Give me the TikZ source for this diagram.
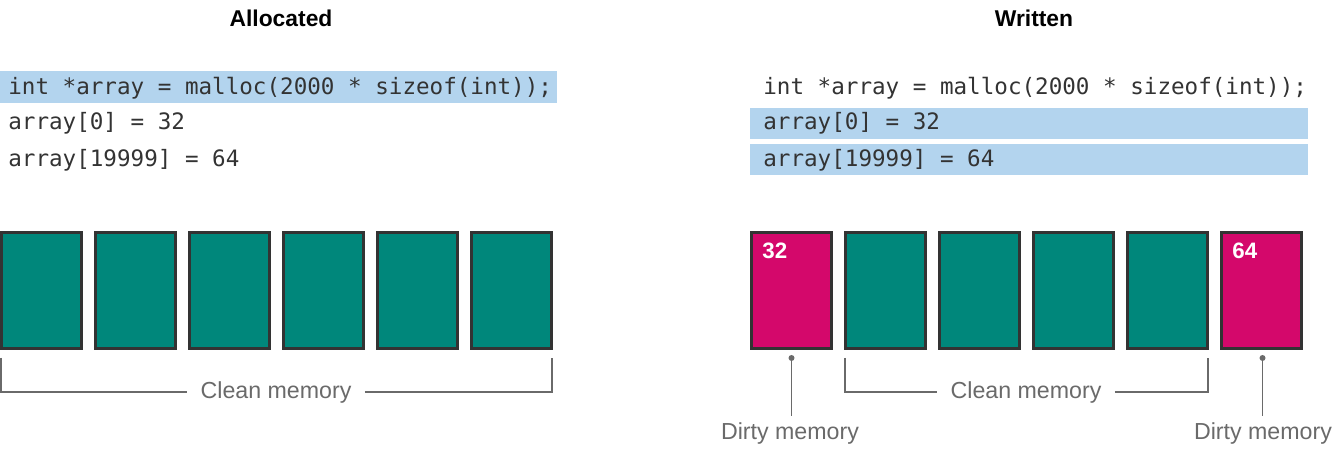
\documentclass[tikz,border=0pt]{standalone}
\usepackage{fontspec}
\setmainfont{Liberation Sans}
\setmonofont{DejaVu Sans Mono}
\usetikzlibrary{positioning,calc}

\definecolor{cleanteal}{HTML}{00877B}
\definecolor{dirtypink}{HTML}{D4086B}
\definecolor{hilite}{HTML}{B3D4EE}
\definecolor{framegray}{HTML}{333333}
\definecolor{codegray}{HTML}{333333}
\definecolor{labelgray}{HTML}{6A6A6A}

\tikzset{
  cleanpage/.style={draw=framegray, fill=cleanteal, line width=1.7pt,
    minimum width=1.6cm, minimum height=2.32cm, inner sep=0pt},
  dirtypage/.style={cleanpage, fill=dirtypink},
  pagenum/.style={text=white, font=\bfseries\fontsize{12.7}{15}\selectfont,
    anchor=base west, inner sep=0pt},
  codeline/.style={text=codegray, font=\ttfamily\fontsize{12.85}{15}\selectfont,
    anchor=base west, inner sep=0pt},
  title/.style={font=\bfseries\fontsize{13}{15}\selectfont},
  memlabel/.style={text=labelgray, font=\fontsize{13.2}{15}\selectfont, inner xsep=0.26cm},
  bracket/.style={draw=labelgray, line width=1.1pt}
}

\begin{document}
\begin{tikzpicture}[x=0.02cm, y=-0.02cm]
    \fill[white] (0,0) rectangle (1334,456);
    \useasboundingbox (0,0) rectangle (1334,456);

    % Titles
    \node[title] (allocT) at (281,18) {Allocated};
    \node[title] (writtenT) at (1034,18) {Written};

    % Highlighted lines
    \fill[hilite] (0,71) rectangle (557,103);
    \fill[hilite] (750,108) rectangle (1308,139);
    \fill[hilite] (750,144) rectangle (1308,175);

    % Code, left
    \node[codeline] (codeA1) at (8,94) {int *array = malloc(2000 * sizeof(int));};
    \node[codeline] (codeA2) at (8,130) {array[0] = 32};
    \node[codeline] (codeA3) at (8,166) {array[19999] = 64};
    % Code, right
    \node[codeline] (codeW1) at (763,94) {int *array = malloc(2000 * sizeof(int));};
    \node[codeline] (codeW2) at (763,130) {array[0] = 32};
    \node[codeline] (codeW3) at (763,166) {array[19999] = 64};

    % Pages, left
    \foreach \i in {1,...,6}
        \node[cleanpage] (a\i) at ({41.5+94*(\i-1)},290.5) {};
    % Pages, right
    \foreach \i/\s in {1/dirtypage,2/cleanpage,3/cleanpage,4/cleanpage,5/cleanpage,6/dirtypage}
        \node[\s] (w\i) at ({791.5+94*(\i-1)},290.5) {};
    \node[pagenum] (num32) at ($(w1.north west)+(12,27)$) {32};
    \node[pagenum] (num64) at ($(w6.north west)+(12,27)$) {64};

    % Clean bracket, left
    \coordinate (ca) at ($(a1.south west)+(1,8)$);
    \coordinate (cb) at ($(a6.south east)+(-1,8)$);
    \node[memlabel] (cleanA) at (276,392) {Clean memory};
    \draw[bracket] (ca) |- (cleanA.west);
    \draw[bracket] (cleanA.east) -| (cb);

    % Clean bracket, right
    \coordinate (cc) at ($(w2.south west)+(1,8)$);
    \coordinate (cd) at ($(w5.south east)+(-1,8)$);
    \node[memlabel] (cleanW) at (1026,392) {Clean memory};
    \draw[bracket] (cc) |- (cleanW.west);
    \draw[bracket] (cleanW.east) -| (cd);

    % Dirty markers
    \coordinate (dotA) at ($(w1.south)+(0,8)$);
    \coordinate (dotB) at ($(w6.south)+(1,8)$);
    \node[memlabel] (dirtyA) at (790,433) {Dirty memory};
    \node[memlabel] (dirtyB) at (1263,433) {Dirty memory};
    \fill[labelgray] (dotA) circle (1.7pt);
    \fill[labelgray] (dotB) circle (1.7pt);
    \draw[bracket] (dotA) -- (dotA |- dirtyA.north);
    \draw[bracket] (dotB) -- (dotB |- dirtyB.north);
\end{tikzpicture}
\end{document}
